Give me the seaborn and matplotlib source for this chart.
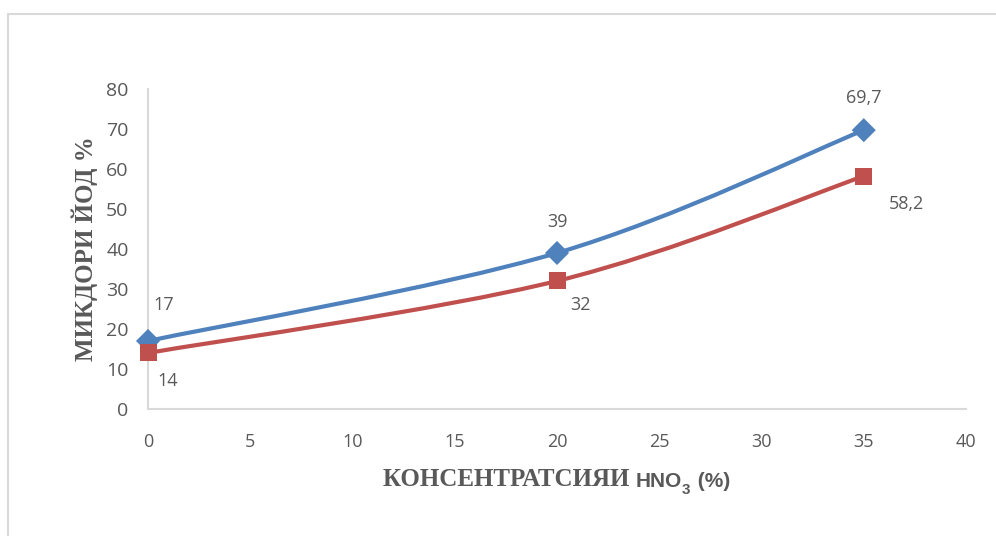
import numpy as np
import pandas as pd
import matplotlib
matplotlib.use('Agg')
import matplotlib.pyplot as plt
import seaborn as sns
from matplotlib.path import Path
from matplotlib.patches import PathPatch, Rectangle

# data
x_vals = [0, 20, 35]
iodine_blue = [17, 39, 69.7]
iodine_red = [14, 32, 58.2]
series_names = ['blue', 'red']

x_ticks = [0, 5, 10, 15, 20, 25, 30, 35, 40]
y_ticks = [0, 10, 20, 30, 40, 50, 60, 70, 80]

# styling
colors = {'blue': '#4F81BD', 'red': '#C0504D'}
markers = {'blue': 'D', 'red': 's'}
gray = '#595959'
# label offsets in points (dx, dy), one per point
blue_offsets = [(11, 26), (0, 22), (0, 23)]
red_offsets = [(14, -20), (17, -17), (31, -20)]

df = pd.DataFrame({
    'x': x_vals * 2,
    'y': iodine_blue + iodine_red,
    'series': ['blue'] * len(x_vals) + ['red'] * len(x_vals),
})

sns.set_style('white')
plt.rcParams['font.family'] = ['Liberation Sans', 'DejaVu Sans']

fig = plt.figure(figsize=(9.96, 5.36), dpi=100)
ax = fig.add_axes([0.1486, 0.237, 0.8213, 0.597])

# outer chart border like Excel
fig.patches.append(Rectangle((8 / 996, -0.1), 1.2, (522 / 536) + 0.1,
                             transform=fig.transFigure, fill=False,
                             edgecolor='#d9d9d9', linewidth=1.5))


def smooth_path(xs, ys):
    # Excel-style smoothed line: cubic Bezier through the points
    pts = np.column_stack([xs, ys]).astype(float)
    verts = [pts[0]]
    codes = [Path.MOVETO]
    n = len(pts)
    for i in range(n - 1):
        p0 = pts[max(i - 1, 0)]
        p1 = pts[i]
        p2 = pts[i + 1]
        p3 = pts[min(i + 2, n - 1)]
        c1 = p1 + (p2 - p0) / 6.0
        c2 = p2 - (p3 - p1) / 6.0
        verts += [c1, c2, p2]
        codes += [Path.CURVE4] * 3
    return Path(verts, codes)


for name in series_names:
    sub = df[df['series'] == name]
    ax.add_patch(PathPatch(smooth_path(sub['x'], sub['y']), fill=False,
                           edgecolor=colors[name], linewidth=3,
                           transform=ax.transData, zorder=2, clip_on=False))

sns.scatterplot(data=df, x='x', y='y', hue='series', style='series',
                palette=colors, markers=markers, s=150, linewidth=0,
                legend=False, ax=ax, zorder=3)
for coll in ax.collections:
    coll.set_clip_on(False)

for vals, offs in [(iodine_blue, blue_offsets), (iodine_red, red_offsets)]:
    for xv, yv, off in zip(x_vals, vals, offs):
        ax.annotate(f'{yv:g}'.replace('.', ','), (xv, yv), xytext=off,
                    textcoords='offset points', ha='center', va='center',
                    fontsize=13, color=gray, family=['Open Sans', 'DejaVu Sans'])

ax.set_xlim(0, 40)
ax.set_ylim(0, 80)
ax.set_xticks(x_ticks)
ax.set_yticks(y_ticks)
ax.tick_params(axis='x', length=0, pad=17, labelsize=13, labelcolor=gray)
ax.tick_params(axis='y', length=0, pad=14, labelsize=14, labelcolor=gray)
for lab in ax.get_xticklabels() + ax.get_yticklabels():
    lab.set_family(['Open Sans', 'DejaVu Sans'])

for side in ['top', 'right']:
    ax.spines[side].set_visible(False)
for side in ['left', 'bottom']:
    ax.spines[side].set_color('#d9d9d9')
    ax.spines[side].set_linewidth(1.5)
ax.set_xlabel('')
ax.set_ylabel('МИКДОРИ ЙОД %', fontsize=18, fontweight='bold', color=gray,
              family=['Liberation Serif', 'DejaVu Serif'], labelpad=6)

# x axis title: serif part, then sans "HNO" with subscript 3 and "(%)"
t1 = fig.text(383 / 996, 1 - 486 / 536, 'КОНСЕНТРАТСИЯИ ', fontsize=18,
              fontweight='bold', color=gray, va='baseline', ha='left',
              family=['Liberation Serif', 'DejaVu Serif'])
t2 = ax.annotate('HNO', xy=(1, 0), xycoords=t1, va='bottom', ha='left',
                 fontsize=15, fontweight='bold', color=gray,
                 family=['Liberation Sans', 'DejaVu Sans'], annotation_clip=False)
t3 = ax.annotate('3', xy=(1, 0), xycoords=t2, xytext=(0, -4),
                 textcoords='offset points', va='bottom', ha='left',
                 fontsize=11, fontweight='bold', color=gray,
                 family=['Liberation Sans', 'DejaVu Sans'], annotation_clip=False)
ax.annotate(' (%)', xy=(1, 0), xycoords=t2, xytext=(7, 0),
            textcoords='offset points', va='bottom', ha='left',
            fontsize=15, fontweight='bold', color=gray,
            family=['Liberation Sans', 'DejaVu Sans'], annotation_clip=False)

fig.savefig('out.png', dpi=100)
